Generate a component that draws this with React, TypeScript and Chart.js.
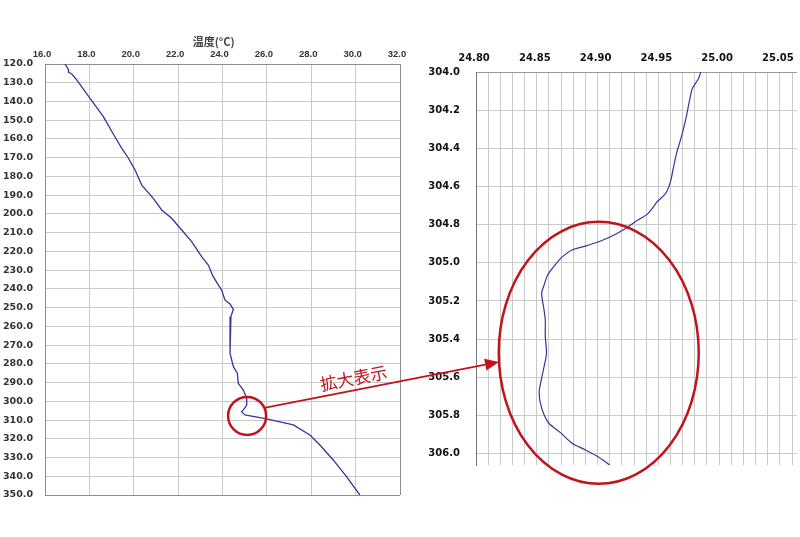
import React, { useEffect, useRef } from "react";
import { Chart, registerables } from "chart.js";

Chart.register(...registerables);

// ---- Overview profile (left): temperature (°C) vs depth ----
const overviewTemps = [
  16.9, 17.05, 17.06, 17.2, 17.43, 18.03, 18.63, 19.15, 19.46, 19.76, 20.06, 20.36,
  20.88, 21.26, 21.71, 22.16, 22.61, 23.06, 23.36, 23.58, 23.81, 23.96, 24.11, 24.34,
  24.49, 24.38, 24.34, 24.34, 24.34, 24.49, 24.67, 24.71, 24.94, 25.09, 25.09, 24.94,
  24.86, 25.01, 25.99, 27.19, 27.94, 28.39, 28.99, 29.59, 30.19,
];
const overviewDepths = [
  120.0, 122.8, 124.5, 125.2, 128.5, 138.3, 148.1, 158.8, 165.0, 170.3, 176.6, 184.6,
  191.7, 197.9, 202.3, 208.6, 214.8, 222.8, 227.3, 233.5, 237.9, 240.6, 245.9, 248.1,
  250.9, 254.8, 262.0, 268.0, 274.4, 281.5, 285.0, 290.4, 294.0, 298.4, 302.0, 304.6,
  305.5, 307.3, 309.4, 312.6, 318.0, 323.3, 331.3, 340.2, 350.0,
];
const overviewTempTicks = [16, 18, 20, 22, 24, 26, 28, 30, 32];
const overviewDepthTicks = [
  120, 130, 140, 150, 160, 170, 180, 190, 200, 210, 220, 230, 240, 250, 260, 270, 280,
  290, 300, 310, 320, 330, 340, 350,
];

// ---- Enlarged view (right) ----
const zoomTemps = [
  24.985, 24.983, 24.978, 24.976, 24.973, 24.971, 24.969, 24.965, 24.962, 24.96, 24.956,
  24.949, 24.946, 24.941, 24.931, 24.923, 24.912, 24.901, 24.89, 24.879, 24.871, 24.865,
  24.859, 24.856, 24.854, 24.856, 24.857, 24.857, 24.858, 24.856, 24.854, 24.852, 24.853,
  24.856, 24.86, 24.87, 24.879, 24.89, 24.901, 24.91,
];
const zoomDepths = [
  304.0, 304.035, 304.087, 304.14, 304.235, 304.29, 304.34, 304.427, 304.515, 304.576,
  304.637, 304.68, 304.707, 304.745, 304.785, 304.82, 304.86, 304.89, 304.913, 304.933,
  304.969, 305.012, 305.064, 305.117, 305.16, 305.248, 305.3, 305.387, 305.474, 305.545,
  305.605, 305.675, 305.736, 305.797, 305.841, 305.893, 305.946, 305.981, 306.019, 306.06,
];
const zoomTempLabels = [24.8, 24.85, 24.9, 24.95, 25.0, 25.05];
const zoomDepthTicks = [304.0, 304.2, 304.4, 304.6, 304.8, 305.0, 305.2, 305.4, 305.6, 305.8, 306.0];

const axisTitle = "温度(°C)";
const calloutText = "拡大表示";

const LINE = "#35359a";
const GRID = "#c9c9c9";
const BORDER = "#8c8c8c";
const RED = "#c0141c";

export default function App() {
  const leftRef = useRef<HTMLCanvasElement>(null);
  const rightRef = useRef<HTMLCanvasElement>(null);

  useEffect(() => {
    const overviewPts = overviewTemps.map((t, i) => ({ x: t, y: overviewDepths[i] }));
    const zoomPts = zoomTemps.map((t, i) => ({ x: t, y: zoomDepths[i] }));

    // minor grid every 0.01 in the enlarged view
    const zoomGrid: number[] = [];
    for (let i = 0; i <= 26; i++) zoomGrid.push(Math.round((24.8 + i * 0.01) * 100) / 100);

    // axis title of the overview, drawn slightly left of centre as in the original
    const overviewTitle = {
      id: "overviewTitle",
      afterDraw(chart: any) {
        const c = chart.ctx as CanvasRenderingContext2D;
        const x = chart.scales.x.getPixelForValue(23.6);
        c.save();
        c.font = 'bold 11px "Noto Sans CJK JP", sans-serif';
        c.fillStyle = "#444";
        c.textAlign = "center";
        c.textBaseline = "middle";
        c.fillText(axisTitle, x, 42);
        c.restore();
      },
    };

    const left = new Chart(leftRef.current!, {
      type: "scatter",
      data: {
        datasets: [
          {
            data: overviewPts,
            showLine: true,
            borderColor: LINE,
            borderWidth: 1.3,
            pointRadius: 0,
            tension: 0,
          },
        ],
      },
      options: {
        responsive: false,
        animation: false,
        events: [],
        layout: { autoPadding: false, padding: { left: 0, top: 0, right: 400, bottom: 42 } },
        plugins: { legend: { display: false }, tooltip: { enabled: false } },
        scales: {
          x: {
            type: "linear",
            position: "top",
            min: 16,
            max: 32,
            afterBuildTicks: (s: any) => {
              s.ticks = overviewTempTicks.map((v) => ({ value: v }));
            },
            afterFit: (s: any) => {
              s.height = 64;
            },
            ticks: {
              autoSkip: false,
              maxRotation: 0,
              minRotation: 0,
              padding: 4,
              labelOffset: -3,
              color: "#333",
              font: { family: '"Liberation Sans", Arial, sans-serif', size: 9.5, weight: "bold" },
              callback: (v: any) => Number(v).toFixed(1),
            },
            grid: {
              drawTicks: false,
              color: (c: any) => (c.tick && c.tick.value === 32 ? BORDER : GRID),
            },
            border: { display: true, color: BORDER },
          },
          y: {
            type: "linear",
            reverse: true,
            min: 120,
            max: 350,
            afterBuildTicks: (s: any) => {
              s.ticks = overviewDepthTicks.map((v) => ({ value: v }));
            },
            afterFit: (s: any) => {
              s.width = 45;
            },
            ticks: {
              autoSkip: false,
              padding: 12,
              color: "#333",
              font: { family: '"DejaVu Sans", sans-serif', size: 9.5, weight: "bold" },
              callback: (v: any) => Number(v).toFixed(1),
            },
            grid: {
              drawTicks: false,
              color: (c: any) => (c.tick && c.tick.value === 350 ? BORDER : GRID),
            },
            border: { display: true, color: BORDER },
          },
        },
      },
      plugins: [overviewTitle],
    } as any);

    const callout = {
      id: "callout",
      afterDraw(chart: any) {
        const c = chart.ctx as CanvasRenderingContext2D;
        const lx = left.scales.x;
        const ly = left.scales.y;
        const rx = chart.scales.x;
        const ry = chart.scales.y;
        const cx1 = lx.getPixelForValue(25.11);
        const cy1 = ly.getPixelForValue(307.8);
        const r1 = 19;
        const cx2 = rx.getPixelForValue(24.901);
        const cy2 = ry.getPixelForValue(305.472);
        const ex = 100;
        const ey = 131;
        c.save();
        c.strokeStyle = RED;
        c.lineWidth = 2.5;
        c.beginPath();
        c.arc(cx1, cy1, r1, 0, Math.PI * 2);
        c.stroke();
        c.beginPath();
        c.ellipse(cx2, cy2, ex, ey, 0, 0, Math.PI * 2);
        c.stroke();

        const a1 = (-25 * Math.PI) / 180;
        const sx = cx1 + r1 * Math.cos(a1);
        const sy = cy1 + r1 * Math.sin(a1);
        const a2 = (176 * Math.PI) / 180;
        const tx = cx2 + ex * Math.cos(a2);
        const ty = cy2 + ey * Math.sin(a2);
        const ang = Math.atan2(ty - sy, tx - sx);
        const headLen = 14;
        const headW = 6;
        const bx = tx - headLen * Math.cos(ang);
        const by = ty - headLen * Math.sin(ang);
        c.lineWidth = 1.7;
        c.beginPath();
        c.moveTo(sx, sy);
        c.lineTo(bx, by);
        c.stroke();
        c.fillStyle = RED;
        c.beginPath();
        c.moveTo(tx, ty);
        c.lineTo(bx + headW * Math.sin(ang), by - headW * Math.cos(ang));
        c.lineTo(bx - headW * Math.sin(ang), by + headW * Math.cos(ang));
        c.closePath();
        c.fill();

        const mx = sx + (tx - sx) * 0.39;
        const my = sy + (ty - sy) * 0.39;
        c.translate(mx + 12 * Math.sin(ang), my - 12 * Math.cos(ang));
        c.rotate(ang);
        c.font = '17px "Noto Sans CJK JP", sans-serif';
        c.textAlign = "center";
        c.textBaseline = "middle";
        c.fillText(calloutText, 0, 0);
        c.restore();
      },
    };

    const right = new Chart(rightRef.current!, {
      type: "scatter",
      data: {
        datasets: [
          {
            data: zoomPts,
            showLine: true,
            borderColor: LINE,
            borderWidth: 1.2,
            pointRadius: 0,
            tension: 0.3,
          },
        ],
      },
      options: {
        responsive: false,
        animation: false,
        events: [],
        layout: { autoPadding: false, padding: { left: 0, top: 0, right: 0, bottom: 72 } },
        plugins: { legend: { display: false }, tooltip: { enabled: false } },
        scales: {
          x: {
            type: "linear",
            position: "top",
            min: 24.8,
            max: 25.064,
            afterBuildTicks: (s: any) => {
              s.ticks = zoomGrid.map((v) => ({ value: v }));
            },
            afterFit: (s: any) => {
              s.height = 72;
            },
            ticks: {
              autoSkip: false,
              maxRotation: 0,
              minRotation: 0,
              padding: 8,
              labelOffset: -2,
              color: "#111",
              font: { family: '"DejaVu Sans", sans-serif', size: 10, weight: "bold" },
              callback: (v: any) => {
                const n = Number(v);
                return zoomTempLabels.some((l) => Math.abs(l - n) < 1e-6) ? n.toFixed(2) : "";
              },
            },
            grid: { drawTicks: false, color: GRID },
            border: { display: true, color: "#999" },
          },
          y: {
            type: "linear",
            reverse: true,
            min: 304.0,
            max: 306.06,
            afterBuildTicks: (s: any) => {
              s.ticks = zoomDepthTicks.map((v) => ({ value: v }));
            },
            afterFit: (s: any) => {
              s.width = 476;
            },
            ticks: {
              autoSkip: false,
              padding: 16,
              color: "#111",
              font: { family: '"DejaVu Sans", sans-serif', size: 10, weight: "bold" },
              callback: (v: any) => Number(v).toFixed(1),
            },
            grid: { drawTicks: false, color: GRID },
            border: { display: true, color: "#777" },
          },
        },
      },
      plugins: [callout],
    } as any);

    return () => {
      right.destroy();
      left.destroy();
    };
  }, []);

  return (
    <div style={{ position: "fixed", left: 0, top: 0, width: 800, height: 537, background: "#fff" }}>
      <canvas ref={leftRef} width={800} height={537} style={{ position: "absolute", left: 0, top: 0 }} />
      <canvas ref={rightRef} width={800} height={537} style={{ position: "absolute", left: 0, top: 0 }} />
    </div>
  );
}
